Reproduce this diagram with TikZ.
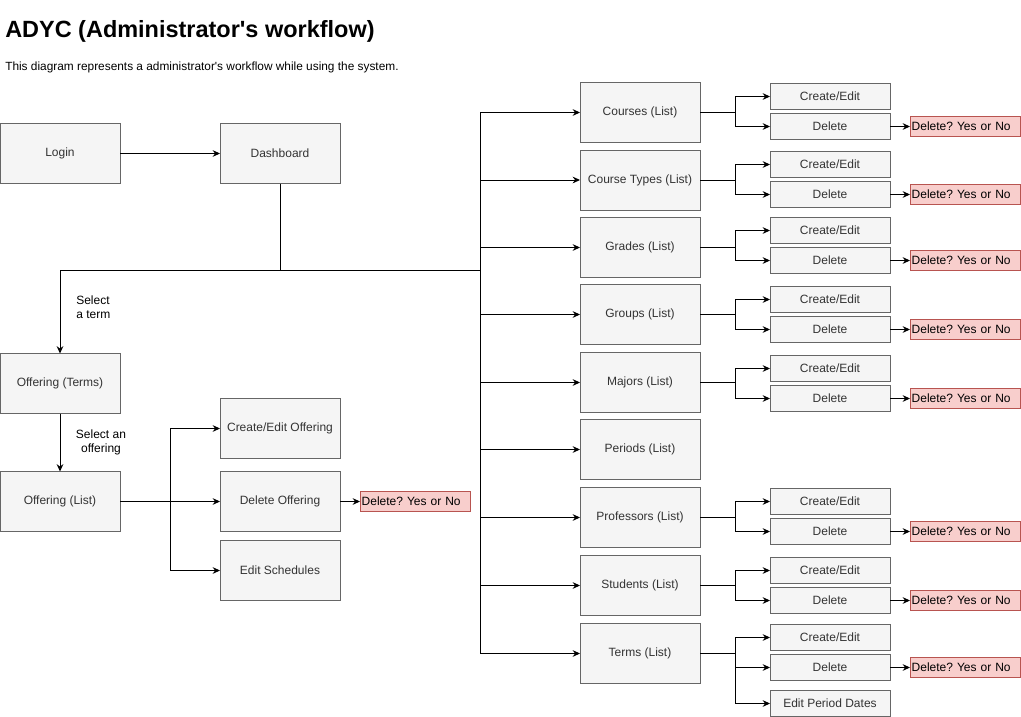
\documentclass[tikz,border=0pt]{standalone}
\usepackage{fontspec}
\setmainfont{Liberation Sans}
\usetikzlibrary{arrows.meta}
\frenchspacing
\definecolor{boxfill}{HTML}{F5F5F5}
\definecolor{boxdraw}{HTML}{666666}
\definecolor{redfill}{HTML}{F8CECC}
\definecolor{reddraw}{HTML}{B85450}
\definecolor{txt}{HTML}{333333}
\tikzset{
  bigbox/.style={draw=boxdraw,fill=boxfill,line width=0.75pt,minimum width=90pt,minimum height=45pt,inner sep=0pt,outer sep=0pt,font=\fontsize{9}{11}\selectfont,text=txt},
  subbox/.style={draw=boxdraw,fill=boxfill,line width=0.75pt,minimum width=90pt,minimum height=19.5pt,inner sep=0pt,outer sep=0pt,font=\fontsize{9}{11}\selectfont,text=txt},
  confirm/.style={draw=reddraw,fill=redfill,line width=0.75pt,minimum width=82.5pt,text width=80pt,minimum height=15pt,inner xsep=1.2pt,inner ysep=0pt,outer sep=0pt,align=left,font=\fontsize{9}{11}\selectfont},
  arr/.style={-{Stealth[length=5.5pt,width=5pt]},line width=0.75pt},
  ln/.style={line width=0.75pt},
  lbl/.style={font=\fontsize{9}{10.5}\selectfont,inner sep=0pt}
}
\begin{document}
\begin{tikzpicture}[x=0.75pt,y=-0.75pt]
\useasboundingbox (0,0) rectangle (1021,717);
\node[anchor=base west,inner sep=0pt,font=\bfseries\fontsize{17.6}{21}\selectfont] (title) at (5,38) {ADYC (Administrator\textquotesingle s workflow)};
\node[anchor=base west,inner sep=0pt,font=\fontsize{8.9}{10}\selectfont] (sub) at (5,71) {This diagram represents a administrator\textquotesingle s workflow while using the system.};

\node[bigbox] (login) at (60,153.5) {Login};
\node[bigbox] (dash) at (280,153.5) {Dashboard};
\node[bigbox] (oterm) at (60,383.5) {Offering (Terms)};
\node[bigbox] (olist) at (60,501.5) {Offering (List)};
\node[bigbox] (ceo) at (280,428.5) {Create/Edit Offering};
\node[bigbox] (dlo) at (280,501.5) {Delete Offering};
\node[bigbox] (es) at (280,570.5) {Edit Schedules};
\node[confirm] (ydo) at (415,501.5) {Delete? Yes or No};

\node[lbl,align=left,anchor=north west] (l1) at (76,296) {Select\\a term};
\node[lbl,align=center,anchor=north] (l2) at (101,430) {Select an\\offering};

\draw[arr] (login.east) -- (dash.west);
\coordinate (bus) at (280,270);
\coordinate (trunk) at (480,270);
\draw[ln] (dash.south) -- (bus);
\draw[arr] (bus) -| (oterm.north);
\draw[ln] (bus) -- (trunk);
\draw[arr] (oterm.south) -- (olist.north);
\draw[arr] (olist.east) -- (dlo.west);
\coordinate (osplit) at (170,501.5);
\draw[arr] (osplit) |- (ceo.west);
\draw[arr] (osplit) |- (es.west);
\draw[arr] (dlo.east) -- (ydo.west);

% list boxes
\node[bigbox] (courses) at (640,112.5) {Courses (List)};
\node[bigbox] (ctypes) at (640,180) {Course Types (List)};
\node[bigbox] (grades) at (640,247.5) {Grades (List)};
\node[bigbox] (groups) at (640,314.5) {Groups (List)};
\node[bigbox] (majors) at (640,382.5) {Majors (List)};
\node[bigbox] (periods) at (640,449.5) {Periods (List)};
\node[bigbox] (profs) at (640,517.5) {Professors (List)};
\node[bigbox] (studs) at (640,585.5) {Students (List)};
\node[bigbox] (terms) at (640,653.5) {Terms (List)};

\foreach \n in {courses,ctypes,grades,groups,majors,periods,profs,studs,terms}
  \draw[arr] (trunk) |- (\n.west);

% sub boxes
\node[subbox] (c1) at (830,96.5) {Create/Edit};
\node[subbox] (d1) at (830,126.5) {Delete};
\node[confirm] (y1) at (965,126.5) {Delete? Yes or No};
\node[subbox] (c2) at (830,164.5) {Create/Edit};
\node[subbox] (d2) at (830,194.5) {Delete};
\node[confirm] (y2) at (965,194.5) {Delete? Yes or No};
\node[subbox] (c3) at (830,230.5) {Create/Edit};
\node[subbox] (d3) at (830,260.5) {Delete};
\node[confirm] (y3) at (965,260.5) {Delete? Yes or No};
\node[subbox] (c4) at (830,299.5) {Create/Edit};
\node[subbox] (d4) at (830,329.5) {Delete};
\node[confirm] (y4) at (965,329.5) {Delete? Yes or No};
\node[subbox] (c5) at (830,368.5) {Create/Edit};
\node[subbox] (d5) at (830,398.5) {Delete};
\node[confirm] (y5) at (965,398.5) {Delete? Yes or No};
\node[subbox] (c7) at (830,501.5) {Create/Edit};
\node[subbox] (d7) at (830,531.5) {Delete};
\node[confirm] (y7) at (965,531.5) {Delete? Yes or No};
\node[subbox] (c8) at (830,570.5) {Create/Edit};
\node[subbox] (d8) at (830,600.5) {Delete};
\node[confirm] (y8) at (965,600.5) {Delete? Yes or No};
\node[subbox] (c9) at (830,637.5) {Create/Edit};
\node[subbox] (d9) at (830,667.5) {Delete};
\node[confirm] (y9) at (965,667.5) {Delete? Yes or No};
\node[subbox] (e9) at (830,703.5) {Edit Period Dates};

\foreach \l/\i in {courses/1,ctypes/2,grades/3,groups/4,majors/5,profs/7,studs/8,terms/9}{
  \draw[ln] (\l.east) -- ++(35,0) coordinate (s\i);
  \draw[arr] (s\i) |- (c\i.west);
  \draw[arr] (s\i) |- (d\i.west);
  \draw[arr] (d\i.east) -- (y\i.west);
}
\draw[arr] (s9) |- (e9.west);
\end{tikzpicture}
\end{document}
